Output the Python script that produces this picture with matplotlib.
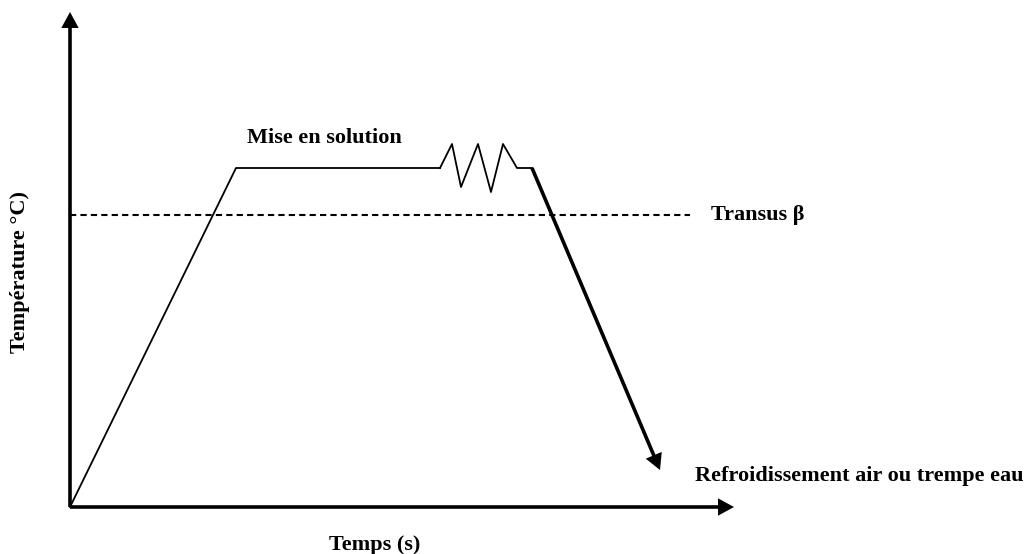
import matplotlib.pyplot as plt

# Heat-treatment cycle, in figure pixel coordinates (y grows downward)
ramp_x = [70, 236, 440]
ramp_y = [507, 168, 168]
zigzag_x = [440, 452, 461, 478, 491, 503, 517, 532]
zigzag_y = [168, 144, 187, 144, 192, 144, 168, 168]
quench_start = (532, 168)
quench_end = (660, 470)
transus_y = 215
transus_x = [70, 690]

origin = (70, 507)
y_axis_tip = (70, 12)
x_axis_tip = (734, 507)

plt.rcParams['font.family'] = ['Liberation Serif', 'DejaVu Serif']

fig = plt.figure(figsize=(10.28, 5.54), dpi=100)
ax = fig.add_axes([0, 0, 1, 1])
ax.set_xlim(0, 1028)
ax.set_ylim(554, 0)
ax.axis('off')

# filled-polygon arrows (sizes in points)
arrow_kw = dict(facecolor='black', edgecolor='none', width=2.6, headwidth=12.5,
                headlength=11.5, shrink=0)

# axes arrows
ax.annotate('', xy=y_axis_tip, xytext=origin, arrowprops=arrow_kw)
ax.annotate('', xy=x_axis_tip, xytext=origin, arrowprops=arrow_kw)

# heating ramp and hold
ax.plot(ramp_x, ramp_y, color='black', lw=1.3)
ax.plot(zigzag_x, zigzag_y, color='black', lw=1.3)

# cooling
ax.annotate('', xy=quench_end, xytext=quench_start, arrowprops=arrow_kw)

# beta transus
ax.plot(transus_x, [transus_y, transus_y], color='black', lw=1.5, ls=(0, (3, 2)))

fs = 16
ax.text(324, 138, 'Mise en solution', fontsize=fs, fontweight='bold', ha='center', va='center')
ax.text(711, 215, 'Transus β', fontsize=fs, fontweight='bold', ha='left', va='center')
ax.text(695, 476, 'Refroidissement air ou trempe eau', fontsize=fs, fontweight='bold',
        ha='left', va='center')
ax.text(375, 545, 'Temps (s)', fontsize=fs, fontweight='bold', ha='center', va='center')
ax.text(20, 272, 'Température °C)', fontsize=fs, fontweight='bold', ha='center', va='center',
        rotation=90)

fig.savefig('out.png', dpi=100)
